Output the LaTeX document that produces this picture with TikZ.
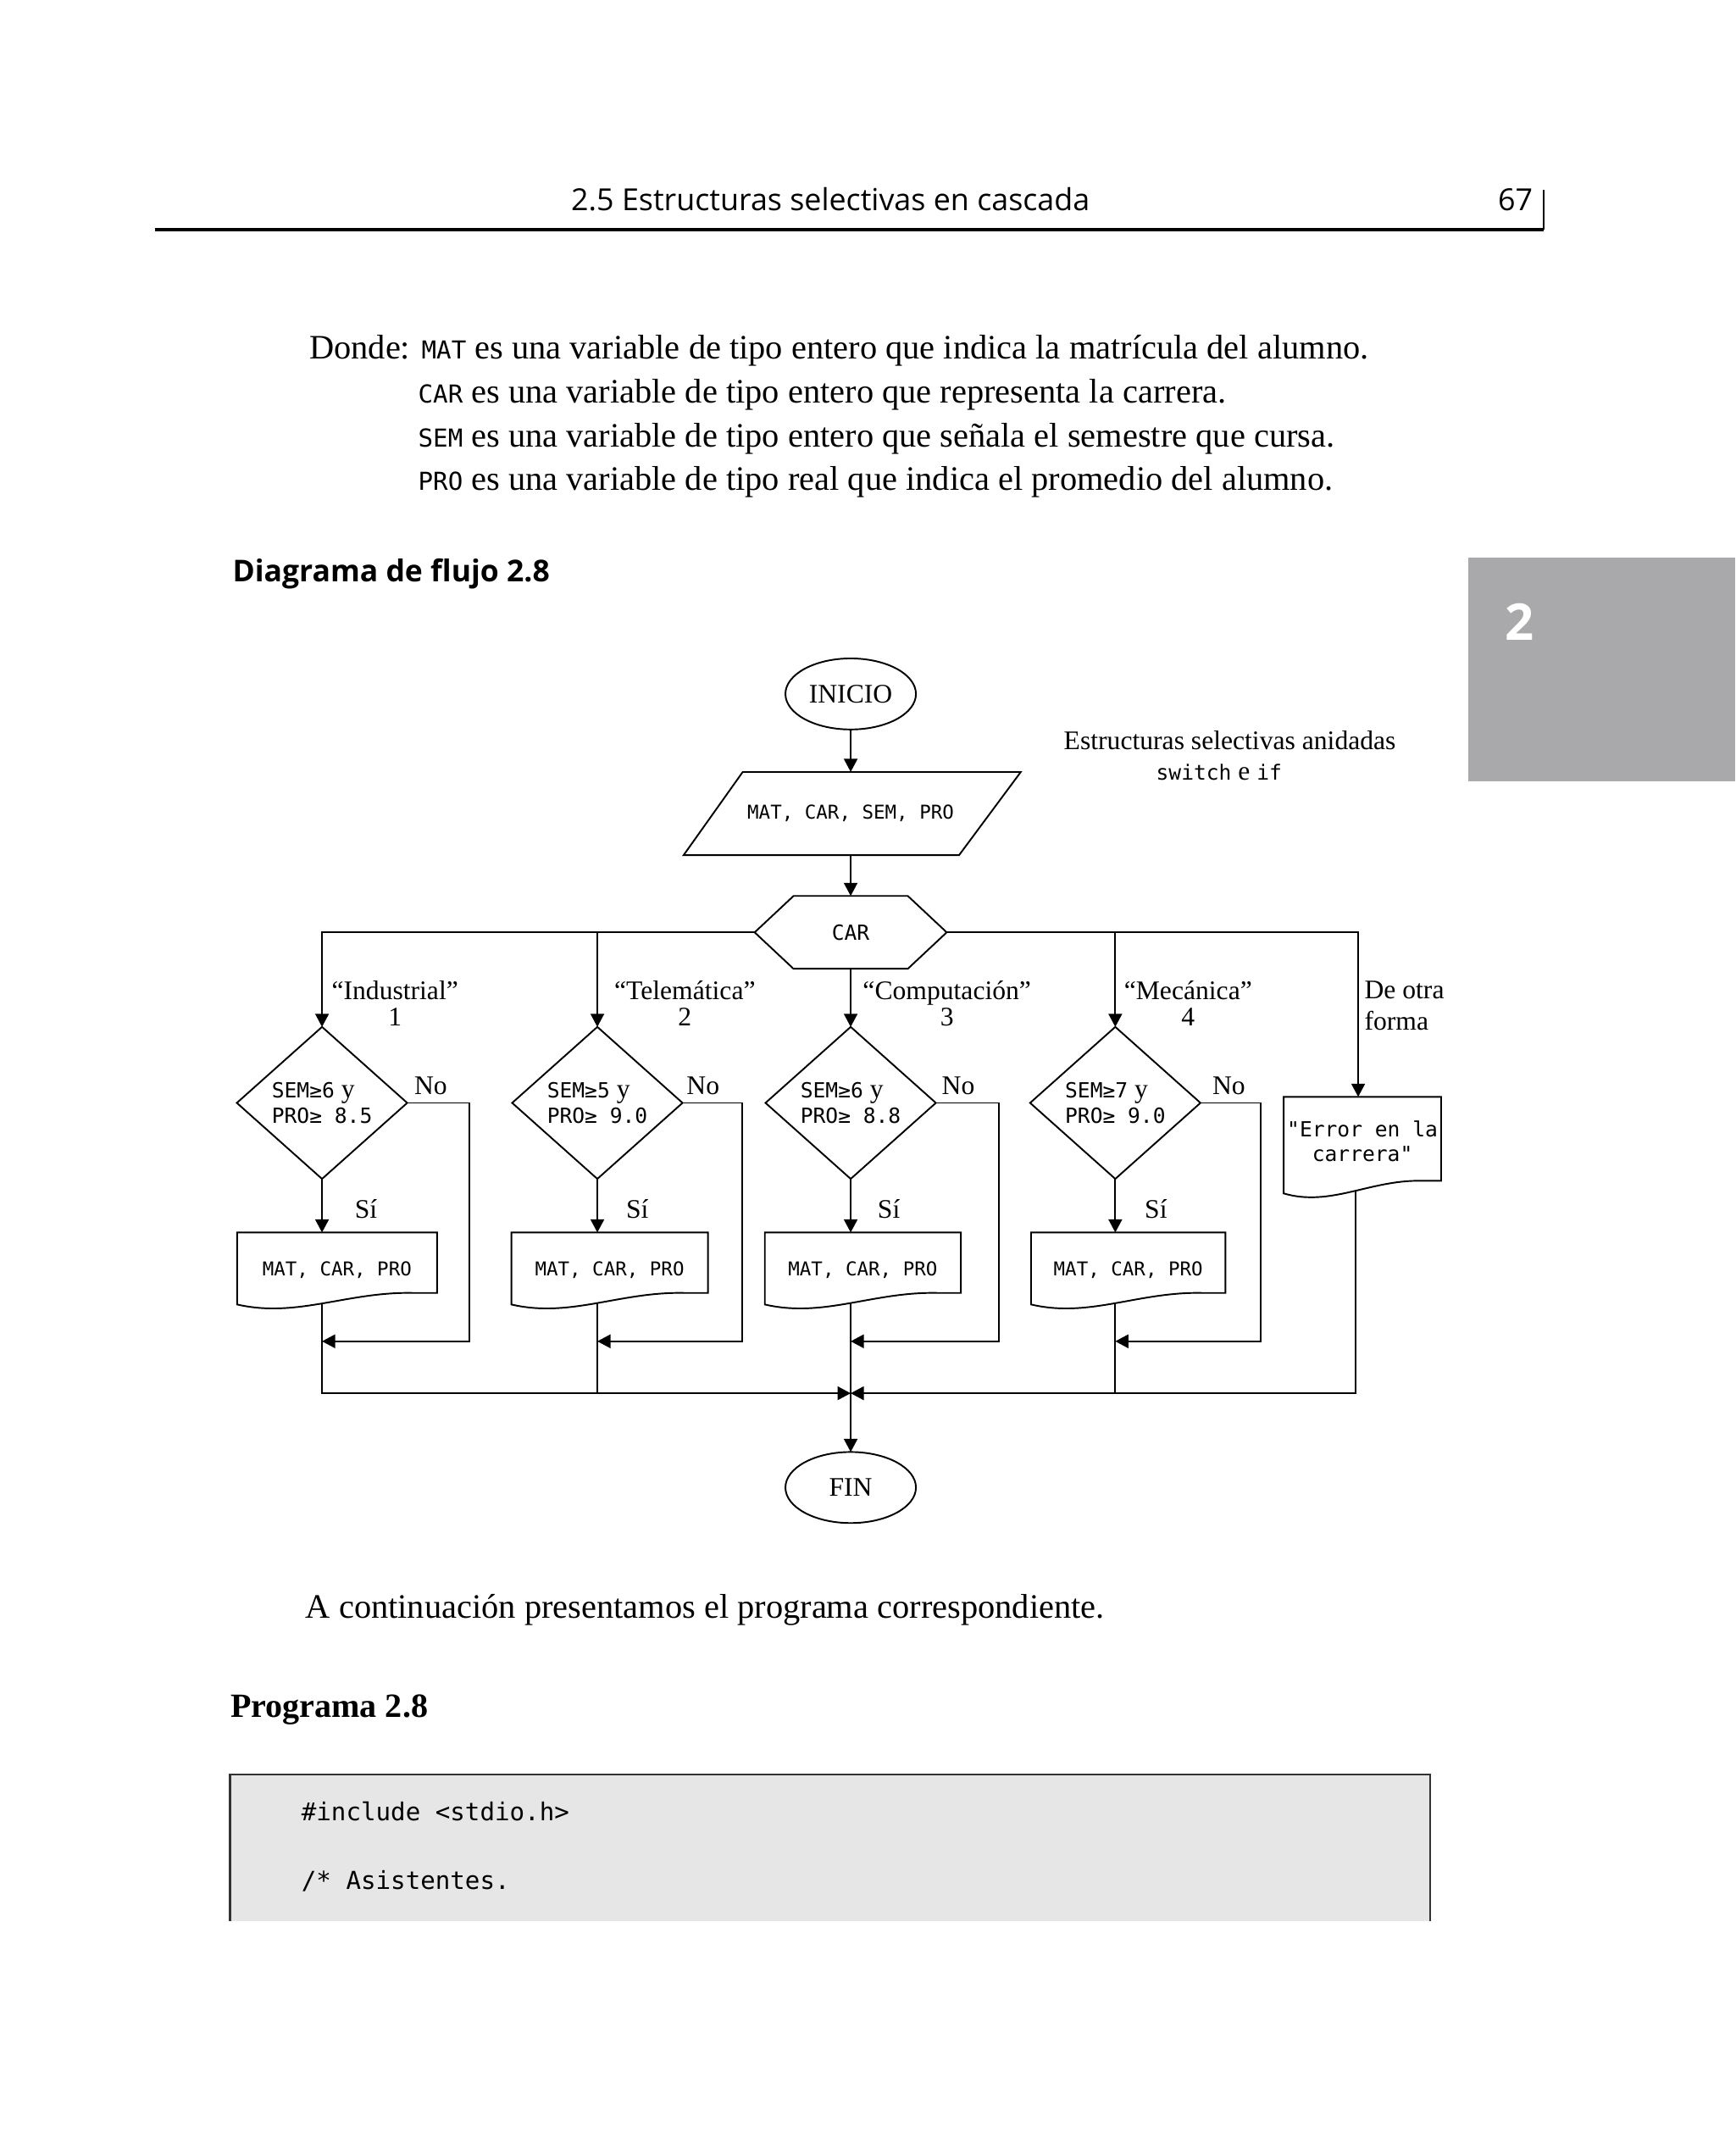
\documentclass[tikz,border=0pt]{standalone}
\usepackage{fontspec}
\setmainfont{Liberation Serif}
\newfontfamily\hdrfont{Open Sans}
\newfontfamily\monofont{DejaVu Sans Mono}
\usetikzlibrary{arrows.meta,calc,shapes.geometric}
\newcommand{\uu}{0.16215mm}
\newcommand{\bmono}[1]{{\monofont\fontsize{8.3}{10}\selectfont #1}}
\newcommand{\dmono}{\monofont\fontsize{6.4}{8}\selectfont}
\newcommand{\dser}[1]{{\rmfamily\fontsize{9}{8.5}\selectfont #1}}
\definecolor{tabgray}{RGB}{169,169,171}
\definecolor{codegray}{RGB}{230,230,230}
\definecolor{codeline}{RGB}{50,50,50}
\newcommand{\docshape}[3]{%
  \draw[ln] (#1.north west) -- (#1.north east) -- ($(#1.north east)+(0,#2)$)
   -- ($(#1.north west)!0.88!(#1.north east)+(0,#2)$)
   .. controls ($(#1.north west)!0.55!(#1.north east)+(0,#2-1)$)
   and ($(#1.north west)!0.3!(#1.north east)+(0,#3+10)$) ..
   ($(#1.north west)+(0,#3)$) -- cycle;}
\tikzset{
  ln/.style={line width=0.55pt, draw=black},
  arr/.style={ln, -{Triangle[length=1.55mm,width=1.6mm]}},
  term/.style={ellipse, draw, line width=0.55pt, minimum width=95*\uu, minimum height=51.7*\uu,
    inner sep=0pt, outer sep=0pt, font=\fontsize{9}{11}\selectfont},
  dec/.style={diamond, draw, line width=0.55pt, minimum width=124*\uu, minimum height=110.6*\uu,
    inner sep=0pt, outer sep=0pt},
  blank/.style={inner sep=0pt, outer sep=0pt},
  docn/.style={inner sep=0pt, outer sep=0pt, font=\dmono},
  dtext/.style={inner sep=0pt, align=left, font=\monofont\fontsize{7}{8.5}\selectfont},
  lbl/.style={inner sep=0pt, align=center, font=\fontsize{9}{9}\selectfont},
  body/.style={inner sep=0pt, font=\fontsize{11.5}{14}\selectfont},
  hdr/.style={inner sep=0pt, font=\hdrfont\fontsize{10.2}{12}\selectfont},
}
\begin{document}
\begin{tikzpicture}[x=0.16215mm, y=-0.16215mm]
\useasboundingbox (0,0) rectangle (1263,1568.26);
% ---------- page header ----------
\node[hdr, anchor=base] (hd) at (604.5,153) {2.5 Estructuras selectivas en cascada};
\node[hdr, anchor=base] (pg) at (1103,153) {67};
\draw[line width=1.1pt] (112.7,166.9) -- (1123.7,166.9);
\draw[line width=0.5pt] (1123.7,138) -- (1123.7,166.9);
% ---------- chapter tab ----------
\fill[tabgray] (1068.8,406) rectangle (1263,568.4);
\node[inner sep=0pt, text=white, font=\hdrfont\bfseries\fontsize{17}{17}\selectfont] (tabn) at (1105.8,452.7) {2};
% ---------- body text ----------
\node[body, anchor=base west] (t1) at (224.8,261) {Donde: \bmono{MAT} es una variable de tipo entero que indica la matrícula del alumno.};
\node[body, anchor=base west] (t2) at (304,293) {\bmono{CAR} es una variable de tipo entero que representa la carrera.};
\node[body, anchor=base west] (t3) at (304,325) {\bmono{SEM} es una variable de tipo entero que señala el semestre que cursa.};
\node[body, anchor=base west] (t4) at (304,357) {\bmono{PRO} es una variable de tipo real que indica el promedio del alumno.};
\node[inner sep=0pt, anchor=base west, font=\hdrfont\bfseries\fontsize{10.1}{12}\selectfont] (dh) at (168.9,423.5) {Diagrama de flujo 2.8};
% ---------- flowchart ----------
\node[term] (ini) at (619.2,505) {INICIO};
\node[lbl] (note1) at (895.2,538.6) {Estructuras selectivas anidadas};
\node[lbl] (note2) at (887.3,562.2) {{\monofont\fontsize{7}{9}\selectfont switch} e {\monofont\fontsize{7}{9}\selectfont if}};
\node[blank, minimum width=160*\uu, minimum height=60.5*\uu, font=\dmono] (rd) at (619.2,592) {MAT, CAR, SEM, PRO};
\draw[ln] (540.6,561.8) -- (743,561.8) -- (698.1,622.3) -- (497.6,622.3) -- cycle;
\node[blank, minimum width=139.8*\uu, minimum height=53*\uu, font=\monofont\fontsize{7}{8}\selectfont] (car) at (619.2,678.5) {CAR};
\draw[ln] (car.west) -- ($(car.north west)+(28.3,0)$) -- ($(car.north east)+(-28.3,0)$) -- (car.east)
  -- ($(car.south east)+(-28.3,0)$) -- ($(car.south west)+(28.3,0)$) -- cycle;
\draw[arr] (ini.south) -- (rd.north);
\draw[arr] (rd.south) -- (car.north);
% decisions
\node[dec] (c1) at (234.4,802.6) {};
\node[dec] (c2) at (434.8,802.6) {};
\node[dec] (c3) at (619.2,802.6) {};
\node[dec] (c4) at (811.8,802.6) {};
\node[dtext] (c1t) at (c1) {SEM≥6\dser{ y}\\PRO≥ 8.5};
\node[dtext] (c2t) at (c2) {SEM≥5\dser{ y}\\PRO≥ 9.0};
\node[dtext] (c3t) at (c3) {SEM≥6\dser{ y}\\PRO≥ 8.8};
\node[dtext] (c4t) at (c4) {SEM≥7\dser{ y}\\PRO≥ 9.0};
% error document
\node[docn, minimum width=114.6*\uu, minimum height=64.6*\uu, align=center,
  font=\monofont\fontsize{7}{8.5}\selectfont] (err) at (991.7,830.5) {"Error en la\\carrera"};
\docshape{err}{61.1}{70.3}
\coordinate (errin) at (988.6,798.2);
\coordinate (errb) at (986.7,867.2);
% case branches
\draw[arr] (car.west) -| (c1.north);
\draw[arr] (c2.north |- car.west) -- (c2.north);
\draw[arr] (car.south) -- (c3.north);
\draw[arr] (car.east) -| (c4.north);
\draw[arr] (car.east) -| (errin);
\node[lbl] (l1) at (287.5,730.2) {“Industrial”\\1};
\node[lbl] (l2) at (498.5,730.2) {“Telemática”\\2};
\node[lbl] (l3) at (689.3,730.2) {“Computación”\\3};
\node[lbl] (l4) at (864.8,730.2) {“Mecánica”\\4};
\node[lbl, align=left, anchor=west, font=\fontsize{9}{10.4}\selectfont] (l5) at (992.8,731.8) {De otra\\forma};
% output documents
\node[docn, minimum width=145.5*\uu, minimum height=54.2*\uu] (d1) at (245.35,924) {MAT, CAR, PRO};
\node[docn, minimum width=143.1*\uu, minimum height=54.2*\uu] (d2) at (443.75,924) {MAT, CAR, PRO};
\node[docn, minimum width=142.7*\uu, minimum height=54.2*\uu] (d3) at (628.05,924) {MAT, CAR, PRO};
\node[docn, minimum width=141.5*\uu, minimum height=54.2*\uu] (d4) at (821.25,924) {MAT, CAR, PRO};
\docshape{d1}{44}{52.4}
\docshape{d2}{44}{52.4}
\docshape{d3}{44}{52.4}
\docshape{d4}{44}{52.4}
\draw[arr] (c1.south) -- (c1.south |- d1.north);
\draw[arr] (c2.south) -- (c2.south |- d2.north);
\draw[arr] (c3.south) -- (c3.south |- d3.north);
\draw[arr] (c4.south) -- (c4.south |- d4.north);
\node[lbl] (s1) at (266.4,879.9) {Sí};
\node[lbl] (s2) at (463.9,879.9) {Sí};
\node[lbl] (s3) at (647,879.9) {Sí};
\node[lbl] (s4) at (841.4,879.9) {Sí};
\node[lbl] (n1) at (313.5,790.4) {No};
\node[lbl] (n2) at (511.7,790.4) {No};
\node[lbl] (n3) at (697.5,790.4) {No};
\node[lbl] (n4) at (894.5,790.4) {No};
% junctions
\coordinate (d1b) at (234.4,948.3);
\coordinate (d2b) at (434.8,948.3);
\coordinate (d3b) at (619.2,948.3);
\coordinate (d4b) at (811.8,948.3);
\coordinate (j1) at (234.4,976.1);
\coordinate (j2) at (434.8,976.1);
\coordinate (j3) at (619.2,976.1);
\coordinate (j4) at (811.8,976.1);
\coordinate (m) at (619.2,1013.9);
\draw[arr] (c1.east) -- ++(45.4,0) |- (j1);
\draw[arr] (c2.east) -- ++(43.2,0) |- (j2);
\draw[arr] (c3.east) -- ++(45.9,0) |- (j3);
\draw[arr] (c4.east) -- ++(44.1,0) |- (j4);
\node[term] (fin) at (619.2,1082.5) {FIN};
\draw[arr] (d1b) |- (m);
\draw[ln] (d2b) -- (d2b |- m);
\draw[arr] (errb) |- (m);
\draw[ln] (d4b) -- (d4b |- m);
\draw[arr] (d3b) -- (fin.north);
% ---------- text after diagram ----------
\node[body, anchor=base west] (t5) at (222.1,1177.5) {A continuación presentamos el programa correspondiente.};
\node[inner sep=0pt, anchor=base west, font=\bfseries\fontsize{11.4}{14}\selectfont] (ph) at (167.4,1249.9) {Programa 2.8};
% ---------- code box ----------
\fill[codegray] (167.4,1291.4) rectangle (1040.9,1397.9);
\draw[line width=0.6pt, draw=codeline] (167.4,1397.9) -- (167.4,1291.4) -- (1040.9,1291.4) -- (1040.9,1397.9);
\node[inner sep=0pt, anchor=base west, font=\monofont\fontsize{8.3}{10}\selectfont] (code1) at (219,1325) {\#include <stdio.h>};
\node[inner sep=0pt, anchor=base west, font=\monofont\fontsize{8.3}{10}\selectfont] (code2) at (219,1374.6) {/* Asistentes.};
\end{tikzpicture}
\end{document}
